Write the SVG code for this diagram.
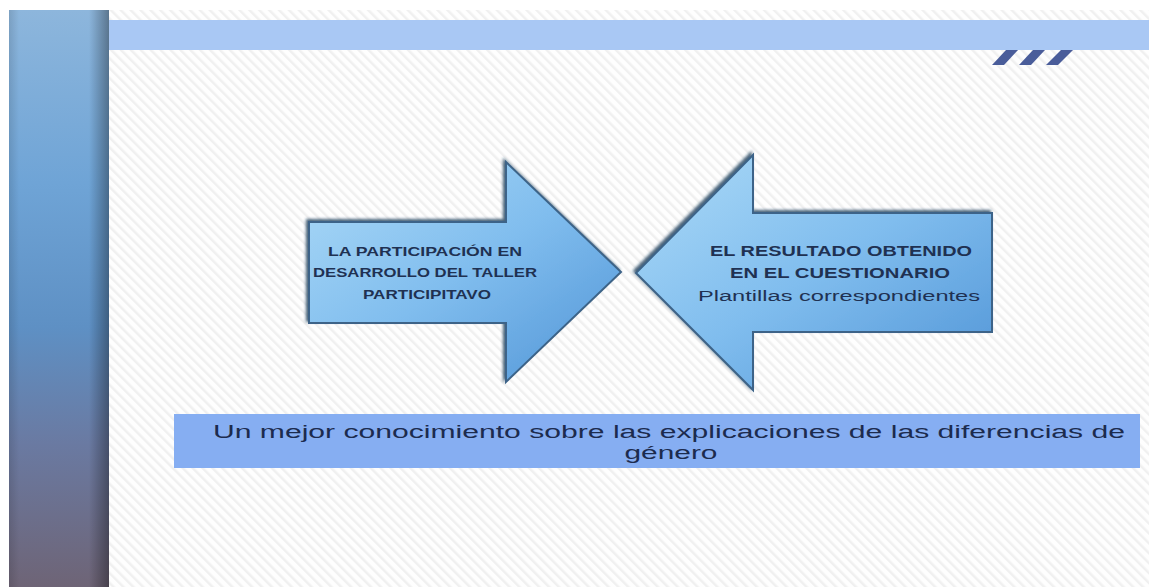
<svg xmlns="http://www.w3.org/2000/svg" width="1149" height="587" viewBox="0 0 1149 587">
  <defs>
    <pattern id="stripes" width="7" height="7" patternUnits="userSpaceOnUse" patternTransform="rotate(-45)">
      <rect width="7" height="7" fill="#fefefe"/>
      <rect width="2.5" height="7" fill="#f0f0f0"/>
    </pattern>
    <linearGradient id="sideV" x1="0" y1="0" x2="0" y2="1">
      <stop offset="0" stop-color="#8db6dc"/>
      <stop offset="0.3" stop-color="#6fa4d6"/>
      <stop offset="0.55" stop-color="#5e90c4"/>
      <stop offset="0.75" stop-color="#6a7aa2"/>
      <stop offset="1" stop-color="#6e6476"/>
    </linearGradient>
    <linearGradient id="sideH" x1="0" y1="0" x2="1" y2="0">
      <stop offset="0" stop-color="#000" stop-opacity="0.12"/>
      <stop offset="0.1" stop-color="#000" stop-opacity="0"/>
      <stop offset="0.8" stop-color="#000" stop-opacity="0"/>
      <stop offset="1" stop-color="#000" stop-opacity="0.35"/>
    </linearGradient>
    <linearGradient id="arrowFill" x1="0" y1="0" x2="1" y2="1">
      <stop offset="0" stop-color="#acdaf7"/>
      <stop offset="0.5" stop-color="#80bdee"/>
      <stop offset="1" stop-color="#5094d6"/>
    </linearGradient>
    <filter id="shadow" x="-10%" y="-10%" width="120%" height="120%">
      <feDropShadow dx="-2" dy="-2" stdDeviation="1.5" flood-color="#1e3a58" flood-opacity="0.8"/>
    </filter>
    <style>
      .arrow { fill: url(#arrowFill); stroke: #3d6488; stroke-width: 2; stroke-linejoin: miter; filter: url(#shadow); }
      .atext { font-family: "Liberation Sans", Arial, sans-serif; fill: #1f3152; text-anchor: middle; font-weight: bold; }
      .atext.light { font-weight: normal; }
      .btext { font-family: "Liberation Sans", Arial, sans-serif; fill: #1c2b4e; font-size: 18px; text-anchor: middle; }
    </style>
  </defs>

  <rect width="1149" height="587" fill="#ffffff"/>
  <rect x="109" y="10" width="1040" height="577" fill="url(#stripes)"/>

  <g id="sidebar">
    <rect x="9" y="10" width="100" height="577" fill="url(#sideV)"/>
    <rect x="9" y="10" width="100" height="577" fill="url(#sideH)"/>
  </g>

  <g id="topband">
    <rect x="109" y="20" width="1040" height="30" fill="#a9c8f4"/>
  </g>

  <g id="slashes" fill="#4a5d9a">
    <polygon points="992,65 1004,65 1018,50 1006,50"/>
    <polygon points="1019,65 1031,65 1045,50 1033,50"/>
    <polygon points="1046,65 1058,65 1073,50 1061,50"/>
  </g>

  <g id="arrow-right">
    <polygon class="arrow" points="309,222 506,222 506,162 621,272 506,382 506,323 309,323"/>
    <text class="atext" font-size="13" x="425" y="256" textLength="194" lengthAdjust="spacingAndGlyphs">LA PARTICIPACIÓN EN</text>
    <text class="atext" font-size="13" x="425" y="277" textLength="224" lengthAdjust="spacingAndGlyphs">DESARROLLO DEL TALLER</text>
    <text class="atext" font-size="13" x="427" y="299" textLength="128" lengthAdjust="spacingAndGlyphs">PARTICIPITAVO</text>
  </g>

  <g id="arrow-left">
    <polygon class="arrow" points="992,213 753,213 753,155 636,273 753,390 753,332 992,332"/>
    <text class="atext" font-size="14" x="841" y="256" textLength="262" lengthAdjust="spacingAndGlyphs">EL RESULTADO OBTENIDO</text>
    <text class="atext" font-size="14" x="840" y="278" textLength="220" lengthAdjust="spacingAndGlyphs">EN EL CUESTIONARIO</text>
    <text class="atext light" font-size="14" x="839" y="301" textLength="282" lengthAdjust="spacingAndGlyphs">Plantillas correspondientes</text>
  </g>

  <g id="result">
    <rect x="174" y="414" width="966" height="54" fill="#86aef2"/>
    <text class="btext" x="669" y="438" textLength="912" lengthAdjust="spacingAndGlyphs">Un mejor conocimiento sobre las explicaciones de las diferencias de</text>
    <text class="btext" x="671" y="459" textLength="93" lengthAdjust="spacingAndGlyphs">género</text>
  </g>

  <g id="connectors"></g>
</svg>
